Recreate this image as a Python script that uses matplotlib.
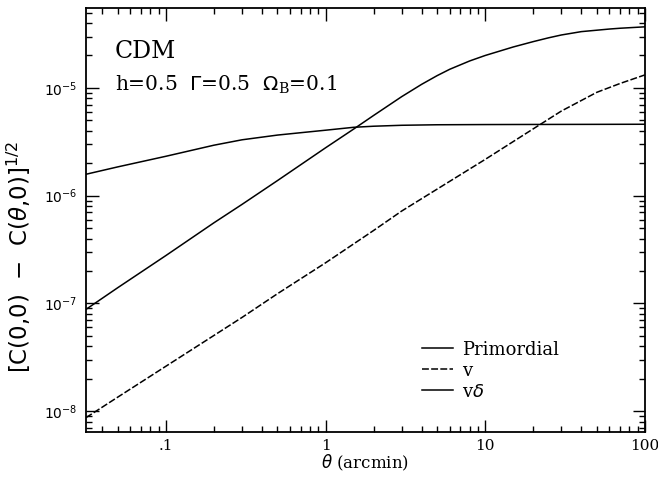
import matplotlib
matplotlib.use("Agg")
import matplotlib.pyplot as plt
from matplotlib.ticker import FixedLocator, FixedFormatter, LogLocator, NullFormatter

# Angular separation (arcmin) for each curve
theta_p = [0.0316, 0.05, 0.1, 0.2, 0.3, 0.5, 0.7, 1, 1.5, 2, 3, 5, 10, 20, 50, 100]
theta_v = [0.0316, 0.05, 0.1, 0.2, 0.3, 0.5, 1, 2, 3, 5, 10, 20, 30, 50, 70, 100]
theta_vd = [0.0316, 0.05, 0.1, 0.2, 0.3, 0.5, 1, 1.5, 2, 3, 4, 5, 6, 8, 10, 15,
            20, 25, 30, 40, 60, 70, 100]

# [C(0,0) - C(theta,0)]^(1/2) for each contribution
primordial = [1.58e-6, 1.85e-6, 2.32e-6, 2.94e-6, 3.30e-6, 3.65e-6, 3.84e-6, 4.05e-6,
              4.31e-6, 4.41e-6, 4.50e-6, 4.55e-6, 4.57e-6, 4.58e-6, 4.59e-6, 4.60e-6]
v_term = [8.7e-9, 1.35e-8, 2.61e-8, 5.04e-8, 7.41e-8, 1.23e-7, 2.38e-7, 4.75e-7,
          7.2e-7, 1.15e-6, 2.17e-6, 4.17e-6, 6.1e-6, 9.1e-6, 1.10e-5, 1.32e-5]
vdelta_term = [8.8e-8, 1.4e-7, 2.78e-7, 5.6e-7, 8.3e-7, 1.38e-6, 2.78e-6, 4.15e-6,
               5.55e-6, 8.3e-6, 1.08e-5, 1.30e-5, 1.49e-5, 1.78e-5, 2.00e-5, 2.40e-5,
               2.69e-5, 2.92e-5, 3.10e-5, 3.33e-5, 3.52e-5, 3.58e-5, 3.69e-5]

xtick_values = [0.1, 1, 10, 100]
xtick_labels = [".1", "1", "10", "100"]
ytick_values = [1e-8, 1e-7, 1e-6, 1e-5]
ytick_labels = [r"$\mathregular{10^{-8}}$", r"$\mathregular{10^{-7}}$",
                r"$\mathregular{10^{-6}}$", r"$\mathregular{10^{-5}}$"]

fig = plt.figure(figsize=(6.58, 4.78), dpi=100)
ax = fig.add_axes([0.1307, 0.0962, 0.8493, 0.8871])

lw = 1.1
ax.plot(theta_p, primordial, color="black", lw=lw, label="Primordial")
ax.plot(theta_v, v_term, color="black", lw=lw, linestyle=(0, (4.5, 1.5)), label="v")
ax.plot(theta_vd, vdelta_term, color="black", lw=lw, label=r"v$\delta$")

ax.set_xscale("log")
ax.set_yscale("log")
ax.set_xlim(0.0316, 100)
ax.set_ylim(6.4e-9, 5.52e-5)

ax.xaxis.set_major_locator(FixedLocator(xtick_values))
ax.xaxis.set_major_formatter(FixedFormatter(xtick_labels))
ax.xaxis.set_minor_locator(LogLocator(base=10, subs=range(2, 10), numticks=20))
ax.xaxis.set_minor_formatter(NullFormatter())
ax.yaxis.set_major_locator(FixedLocator(ytick_values))
ax.yaxis.set_major_formatter(FixedFormatter(ytick_labels))
ax.yaxis.set_minor_locator(LogLocator(base=10, subs=range(2, 10), numticks=20))
ax.yaxis.set_minor_formatter(NullFormatter())

ax.tick_params(which="both", direction="in", top=True, right=True, width=1.0, color="black")
ax.tick_params(which="major", length=9)
ax.tick_params(which="minor", length=4.5)
ax.tick_params(axis="x", which="major", labelsize=11, pad=5)
ax.tick_params(axis="y", which="major", labelsize=10, pad=6)
for lab in ax.get_xticklabels():
    lab.set_family("DejaVu Serif")
for spine in ax.spines.values():
    spine.set_linewidth(1.3)

ax.set_xlabel(r"$\theta$ (arcmin)", family="DejaVu Serif", fontsize=12, labelpad=0)
ax.set_ylabel(r"[C(0,0)  $-$  C($\theta$,0)]$^{\mathregular{1/2}}$", fontsize=16.5)
ax.yaxis.set_label_coords(-0.095, 0.413)

ax.text(0.052, 0.882, "CDM", transform=ax.transAxes, family="DejaVu Serif", fontsize=17)
ax.text(0.052, 0.805, r"h=0.5  $\Gamma$=0.5  $\Omega_{\mathregular{B}}$=0.1",
        transform=ax.transAxes, family="DejaVu Serif", fontsize=14.5)

leg = ax.legend(loc="upper left", bbox_to_anchor=(0.601, 0.2155), frameon=False,
                prop={"family": "DejaVu Serif", "size": 13}, handlelength=1.75,
                handletextpad=0.5, labelspacing=0.17, borderpad=0, borderaxespad=0)

fig.savefig("out.png", dpi=100)
